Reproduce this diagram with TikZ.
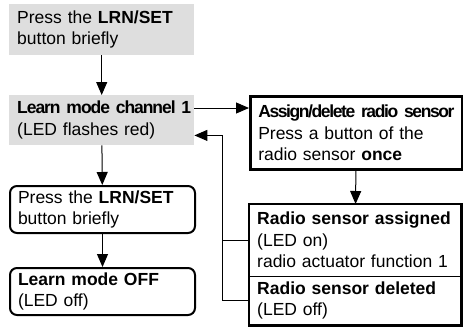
\documentclass[tikz,border=0pt]{standalone}
\usepackage{fontspec}
\setmainfont{Liberation Sans}
\usepackage{tikz}
\usetikzlibrary{positioning,arrows.meta}
\usepackage{xcolor}
\definecolor{boxgray}{RGB}{222,222,222}
\newcommand{\squeeze}[2][-8]{\mbox{\addfontfeature{LetterSpace=#1}#2}}

\begin{document}
\begin{tikzpicture}[x=1bp,y=-1bp,
    every node/.style={font=\fontsize{17.5bp}{21.5bp}\selectfont, align=left,
        inner xsep=8bp, inner ysep=0pt, anchor=north west},
    greybox/.style={fill=boxgray, text width=169bp},
    roundbox/.style={draw, line width=2bp, rounded corners=7bp, text width=169bp},
    sidebox/.style={text width=196bp},
    arr/.style={-{Triangle[length=13bp,width=11bp]}, line width=1bp}]
                \useasboundingbox (0,0) rectangle (463,326);
                \node[greybox, minimum height=51bp](press1) at (9,4){Press the \textbf{LRN/SET}\\button briefly};
                \node[greybox, minimum height=50bp](learn) at (9,95){\textbf{\squeeze[-6]{Learn mode channel 1}}\\(LED flashes red)};
                \node[roundbox, minimum height=47bp](press2) at (9,185){Press the \textbf{LRN/SET}\\button briefly};
                \node[roundbox, minimum height=47bp](off) at (9,267){\textbf{Learn mode OFF}\\(LED off)};
                \node[sidebox, draw, line width=2.5bp, minimum height=73bp](assign) at (249,95){\textbf{\squeeze{Assign/delete radio sensor}}\\Press a button of the\\radio sensor \textbf{once}};
                \node[sidebox, minimum height=72bp](rs1) at (249,204){\textbf{\mbox{Radio sensor assigned}}\\(LED on)\\\mbox{radio actuator function 1}};
                \node[sidebox, minimum height=49bp](rs2) at (249,276){\textbf{Radio sensor deleted}\\(LED off)};
                \draw[line width=1bp] (rs1.south west) -- (rs1.south east);
                \draw[line width=2.5bp] (rs1.north west) rectangle (rs2.south east);
                % steps down the left side
                \draw[arr] (press1) -- (learn);
                \draw[arr] (learn) -- (press2);
                \draw[arr] (press2) -- (off);
                \draw[arr] (assign) -- (rs1);
                % to the sensor and back
                \coordinate (a1) at ([yshift=-13bp]learn.north east);
                \draw[arr] (a1) -- (a1 -| assign.west);
                \coordinate (fb) at ([xshift=28bp,yshift=10bp]learn.south east);
                \draw[arr] (rs2.west) -| (fb) -- (learn.east |- fb);
                \draw[line width=1bp] (rs1.west) -- (rs1.west -| fb);
\end{tikzpicture}
\end{document}
